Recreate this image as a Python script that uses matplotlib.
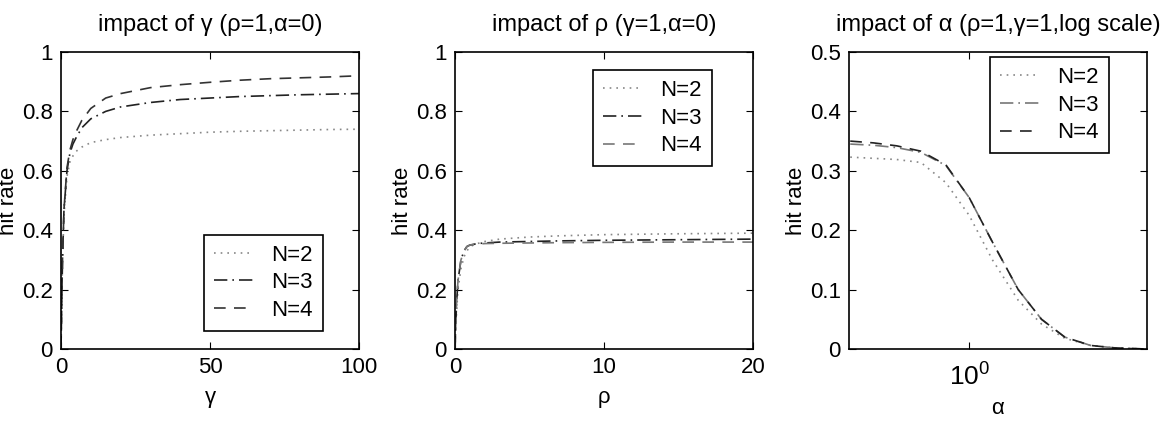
import matplotlib
matplotlib.use("Agg")
import matplotlib.pyplot as plt
from matplotlib.ticker import FormatStrFormatter, FixedLocator, NullLocator

plt.rcParams['font.family'] = ['Liberation Sans', 'DejaVu Sans']
plt.rcParams['font.size'] = 16
plt.rcParams['mathtext.fontset'] = 'custom'
plt.rcParams['mathtext.rm'] = 'Liberation Sans'

# panel 1: impact of gamma
gamma = [0, 0.5, 1, 2, 3, 4, 5, 7, 10, 15, 20, 30, 40, 50, 60, 70, 80, 90, 100]
g_n2 = [0, 0.3, 0.45, 0.58, 0.63, 0.65, 0.665, 0.68, 0.695, 0.705, 0.712, 0.72, 0.725, 0.73, 0.733, 0.735, 0.737, 0.739, 0.74]
g_n3 = [0, 0.3, 0.47, 0.6, 0.66, 0.69, 0.71, 0.745, 0.775, 0.8, 0.815, 0.83, 0.84, 0.845, 0.85, 0.853, 0.856, 0.858, 0.86]
g_n4 = [0, 0.3, 0.47, 0.61, 0.67, 0.705, 0.73, 0.77, 0.81, 0.845, 0.86, 0.88, 0.89, 0.898, 0.905, 0.91, 0.913, 0.916, 0.92]

# panel 2: impact of rho
rho = [0, 0.1, 0.2, 0.4, 0.6, 0.8, 1, 1.5, 2, 3, 5, 7, 10, 15, 20]
r_n2 = [0, 0.12, 0.2, 0.27, 0.31, 0.33, 0.345, 0.355, 0.362, 0.37, 0.377, 0.381, 0.385, 0.388, 0.39]
r_n3 = [0, 0.15, 0.23, 0.3, 0.33, 0.345, 0.35, 0.355, 0.357, 0.36, 0.362, 0.364, 0.366, 0.368, 0.37]
r_n4 = [0, 0.15, 0.23, 0.3, 0.33, 0.345, 0.35, 0.353, 0.355, 0.356, 0.357, 0.358, 0.359, 0.36, 0.36]

# panel 3: impact of alpha (log x)
alpha = [0.32, 0.4, 0.5, 0.63, 0.8, 1.0, 1.25, 1.6, 2.0, 2.5, 3.2, 4.0, 5.0, 5.5]
a_n2 = [0.323, 0.321, 0.319, 0.314, 0.28, 0.225, 0.15, 0.082, 0.042, 0.018, 0.006, 0.002, 0.0005, 0]
a_n3 = [0.345, 0.343, 0.339, 0.331, 0.309, 0.255, 0.18, 0.10, 0.05, 0.02, 0.006, 0.002, 0.0005, 0]
a_n4 = [0.35, 0.347, 0.342, 0.333, 0.31, 0.255, 0.18, 0.10, 0.05, 0.02, 0.006, 0.002, 0.0005, 0]

labels = ['N=2', 'N=3', 'N=4']

fig = plt.figure(figsize=(11.64, 4.24), dpi=100)
lefts = [61/1164, 455/1164, 849/1164]
W = 298/1164
B = (424-349)/424
H = 297/424

panels = [
    (gamma, [g_n2, g_n3, g_n4], 'impact of γ (ρ=1,α=0)', 'γ', (0, 100), [0, 50, 100], (0, 1),
     'lower right', (0.879, 0.061), ['#888888', '#222222', '#333333']),
    (rho, [r_n2, r_n3, r_n4], 'impact of ρ (γ=1,α=0)', 'ρ', (0, 20), [0, 10, 20], (0, 1),
     'upper right', (0.862, 0.939), ['#888888', '#222222', '#777777']),
    (alpha, [a_n2, a_n3, a_n4], 'impact of α (ρ=1,γ=1,log scale)', 'α', (10**-0.5, 10**0.74), [1], (0, 0.5),
     'upper right', (0.872, 0.983), ['#888888', '#777777', '#222222']),
]
styles = [(0, (1, 3)), (0, (8, 3, 1, 3)), (0, (7, 5))]

for i, (x, ys, title, xl, xlim, xt, ylim, loc, anchor, cols) in enumerate(panels):
    ax = fig.add_axes([lefts[i], B, W, H])
    for y, lab, ls, c in zip(ys, labels, styles, cols):
        ax.plot(x, y, linestyle=ls, color=c, lw=1.2, label=lab)
    ax.tick_params(direction='in', top=True, right=True, length=5, width=0.8, pad=6)
    if i == 2:
        ax.set_xscale('log')
        ax.xaxis.set_major_locator(FixedLocator(xt))
        ax.xaxis.set_minor_locator(NullLocator())
        ax.set_xticklabels(['$10^0$'])
        ax.tick_params(axis='x', pad=9, labelsize=19)
        ax.set_yticks([0, 0.1, 0.2, 0.3, 0.4, 0.5])
    else:
        ax.set_xticks(xt)
        ax.set_yticks([0, 0.2, 0.4, 0.6, 0.8, 1])
    ax.yaxis.set_major_formatter(FormatStrFormatter('%g'))
    ax.set_xlim(*xlim)
    ax.set_ylim(*ylim)
    ax.set_title(title, fontsize=17, pad=15)
    ax.set_xlabel(xl, labelpad=6)
    ax.set_ylabel('hit rate', labelpad=2)
    for s in ax.spines.values():
        s.set_linewidth(1.2)
    leg = ax.legend(loc=loc, bbox_to_anchor=anchor, fancybox=False, framealpha=1, edgecolor='black',
                    handlelength=1.8, handletextpad=0.8, borderaxespad=0, borderpad=0.45,
                    labelspacing=0.3, alignment='right')
    leg.get_frame().set_linewidth(1.2)

fig.savefig('out.png', dpi=100)
